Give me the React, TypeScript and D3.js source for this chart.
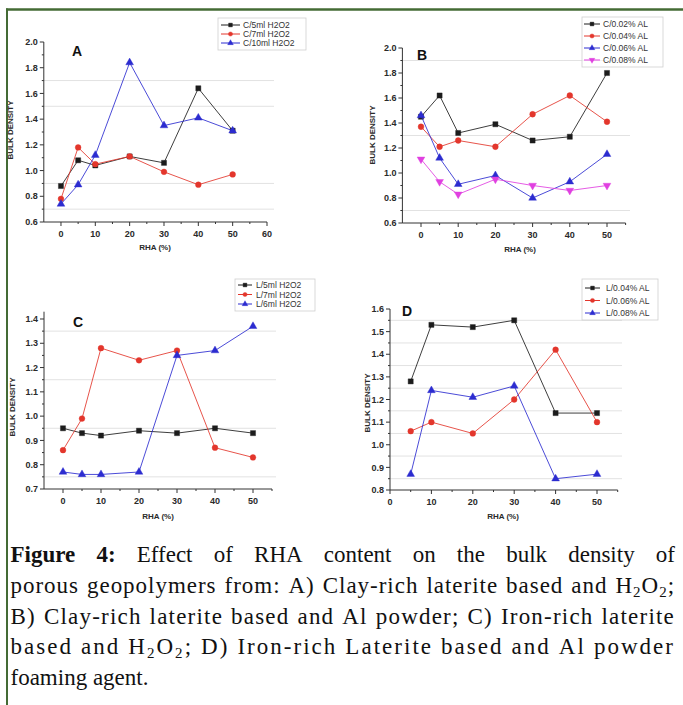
import React, { useEffect, useRef } from 'react';
import * as d3 from 'd3';

// RHA content (%) on the x axis
const rha = [0, 5, 10, 20, 30, 40, 50];
const rhaD = [5, 10, 20, 30, 40, 50];

// A) Clay-rich laterite + H2O2
const a5ml = [0.88, 1.08, 1.04, 1.11, 1.06, 1.64, 1.31];
const a7ml = [0.78, 1.18, 1.05, 1.11, 0.99, 0.89, 0.97];
const a10ml = [0.74, 0.89, 1.12, 1.84, 1.35, 1.41, 1.31];
const labelsA = ['C/5ml H2O2', 'C/7ml H2O2', 'C/10ml H2O2'];

// B) Clay-rich laterite + Al powder
const b002 = [1.45, 1.62, 1.32, 1.39, 1.26, 1.29, 1.8];
const b004 = [1.37, 1.21, 1.26, 1.21, 1.47, 1.62, 1.41];
const b006 = [1.46, 1.12, 0.91, 0.98, 0.8, 0.93, 1.15];
const b008 = [1.11, 0.93, 0.83, 0.95, 0.9, 0.86, 0.9];
const labelsB = ['C/0.02% AL', 'C/0.04% AL', 'C/0.06% AL', 'C/0.08% AL'];

// C) Iron-rich laterite + H2O2
const c5ml = [0.95, 0.93, 0.92, 0.94, 0.93, 0.95, 0.93];
const c7ml = [0.86, 0.99, 1.28, 1.23, 1.27, 0.87, 0.83];
const c6ml = [0.77, 0.76, 0.76, 0.77, 1.25, 1.27, 1.37];
const labelsC = ['L/5ml H2O2', 'L/7ml H2O2', 'L/6ml H2O2'];

// D) Iron-rich laterite + Al powder
const d004 = [1.28, 1.53, 1.52, 1.55, 1.14, 1.14];
const d006 = [1.06, 1.1, 1.05, 1.2, 1.42, 1.1];
const d008 = [0.87, 1.24, 1.21, 1.26, 0.85, 0.87];
const labelsD = ['L/0.04% AL', 'L/0.06% AL', 'L/0.08% AL'];

const xTicksA = [0, 10, 20, 30, 40, 50, 60];
const xTicks = [0, 10, 20, 30, 40, 50];
const yTicksAB = [0.6, 0.8, 1.0, 1.2, 1.4, 1.6, 1.8, 2.0];
const yTicksC = [0.7, 0.8, 0.9, 1.0, 1.1, 1.2, 1.3, 1.4];
const yTicksD = [0.8, 0.9, 1.0, 1.1, 1.2, 1.3, 1.4, 1.5, 1.6];

const captionLines = [
  'Figure 4: Effect of RHA content on the bulk density of',
  'porous geopolymers from: A) Clay-rich laterite based and H2O2;',
  'B) Clay-rich laterite based and Al powder; C) Iron-rich laterite',
  'based and H2O2; D) Iron-rich Laterite based and Al powder',
  'foaming agent.',
];

const BLACK = '#1c1c1c';
const RED = '#e3362c';
const BLUE = '#2c2cd0';
const MAGENTA = '#e040e0';
const GREEN = '#446b35';
const SANS = '"Liberation Sans", Arial, Helvetica, sans-serif';
const SERIF = '"Liberation Serif", "Times New Roman", serif';

type Marker = 'square' | 'circle' | 'triangle' | 'triangleDown';
type Series = { label: string; x: number[]; y: number[]; color: string; marker: Marker };
type Legend = { x: number; y: number; w: number; h: number; row0: number; step: number; l1: number; l2: number; tx: number };
type PanelCfg = {
  letter: string;
  letterPos: [number, number];
  xDomain: [number, number];
  xRange: [number, number];
  yDomain: [number, number];
  yRange: [number, number];
  xTicks: number[];
  yTicks: number[];
  guides: number[];
  guideEnd: number;
  yLabel: [number, number];
  xLabel: [number, number];
  legend: Legend;
  series: Series[];
};

const panels: PanelCfg[] = [
  {
    letter: 'A', letterPos: [72, 56],
    xDomain: [-5, 60], xRange: [43.8, 267], yDomain: [0.6, 2.0], yRange: [222, 42],
    xTicks: xTicksA, yTicks: yTicksAB, guides: [0.7, 0.9, 1.5, 1.7], guideEnd: 274,
    yLabel: [13, 130], xLabel: [155, 250],
    legend: { x: 218, y: 18, w: 88, h: 32, row0: 25, step: 9, l1: 221, l2: 240, tx: 243 },
    series: [
      { label: labelsA[0], x: rha, y: a5ml, color: BLACK, marker: 'square' },
      { label: labelsA[1], x: rha, y: a7ml, color: RED, marker: 'circle' },
      { label: labelsA[2], x: rha, y: a10ml, color: BLUE, marker: 'triangle' },
    ],
  },
  {
    letter: 'B', letterPos: [417, 60],
    xDomain: [-5, 55], xRange: [402.4, 625.6], yDomain: [0.6, 2.0], yRange: [223, 48],
    xTicks, yTicks: yTicksAB, guides: [0.7, 1.3, 1.9], guideEnd: 630,
    yLabel: [375, 135], xLabel: [520, 252],
    legend: { x: 582, y: 17, w: 81, h: 50, row0: 24, step: 12, l1: 584, l2: 600, tx: 603 },
    series: [
      { label: labelsB[0], x: rha, y: b002, color: BLACK, marker: 'square' },
      { label: labelsB[1], x: rha, y: b004, color: RED, marker: 'circle' },
      { label: labelsB[2], x: rha, y: b006, color: BLUE, marker: 'triangle' },
      { label: labelsB[3], x: rha, y: b008, color: MAGENTA, marker: 'triangleDown' },
    ],
  },
  {
    letter: 'C', letterPos: [73, 327],
    xDomain: [-5, 55], xRange: [44, 272], yDomain: [0.7, 1.43], yRange: [489, 311.7],
    xTicks, yTicks: yTicksC, guides: [0.75, 0.95, 1.15, 1.35], guideEnd: 276,
    yLabel: [15, 407], xLabel: [158, 519],
    legend: { x: 235, y: 279, w: 80, h: 32, row0: 285, step: 9.5, l1: 238, l2: 252, tx: 256 },
    series: [
      { label: labelsC[0], x: rha, y: c5ml, color: BLACK, marker: 'square' },
      { label: labelsC[1], x: rha, y: c7ml, color: RED, marker: 'circle' },
      { label: labelsC[2], x: rha, y: c6ml, color: BLUE, marker: 'triangle' },
    ],
  },
  {
    letter: 'D', letterPos: [402, 316],
    xDomain: [0, 55], xRange: [390, 617.7], yDomain: [0.8, 1.6], yRange: [490, 309],
    xTicks, yTicks: yTicksD, guides: [0.85, 0.95, 1.05, 1.15, 1.25, 1.35, 1.45, 1.55], guideEnd: 622,
    yLabel: [370, 403], xLabel: [503, 519],
    legend: { x: 582, y: 279, w: 76, h: 41, row0: 288, step: 12.5, l1: 585, l2: 600, tx: 606 },
    series: [
      { label: labelsD[0], x: rhaD, y: d004, color: BLACK, marker: 'square' },
      { label: labelsD[1], x: rhaD, y: d006, color: RED, marker: 'circle' },
      { label: labelsD[2], x: rhaD, y: d008, color: BLUE, marker: 'triangle' },
    ],
  },
];

function symbolPath(m: Marker, size: number): string {
  const type = m === 'square' ? d3.symbolSquare : m === 'circle' ? d3.symbolCircle : d3.symbolTriangle;
  return d3.symbol().type(type).size(size)() || '';
}

function MarkerShape({ m, x, y, color, size = 26 }: { m: Marker; x: number; y: number; color: string; size?: number }) {
  const rot = m === 'triangleDown' ? ' rotate(180)' : '';
  return <path d={symbolPath(m, size)} transform={`translate(${x},${y})${rot}`} fill={color} stroke={color} strokeWidth={0.4} />;
}

function Panel({ cfg }: { cfg: PanelCfg }) {
  const x = d3.scaleLinear().domain(cfg.xDomain).range(cfg.xRange);
  const y = d3.scaleLinear().domain(cfg.yDomain).range(cfg.yRange);
  const x0 = cfg.xRange[0];
  const y0 = cfg.yRange[0];
  const fmt = d3.format('.1f');
  const lastX = cfg.xTicks[cfg.xTicks.length - 1];
  const xMinor = cfg.xTicks.slice(0, -1).map((t, i) => (t + cfg.xTicks[i + 1]) / 2)
    .concat(cfg.xDomain[1] - lastX >= 5 ? [lastX + 5] : []);
  const yMinor = cfg.yTicks.slice(0, -1).map((t, i) => (t + cfg.yTicks[i + 1]) / 2);
  const line = d3.line<[number, number]>().x((d) => x(d[0])).y((d) => y(d[1]));
  const lg = cfg.legend;
  return (
    <g fontFamily={SANS}>
      {cfg.guides.map((g) => (
        <line key={'g' + g} x1={x0} x2={cfg.guideEnd} y1={y(g)} y2={y(g)} stroke="#e2e2e2" strokeWidth={1} />
      ))}
      {/* axes */}
      <line x1={x0} x2={x0} y1={y0} y2={cfg.yRange[1]} stroke="#333" strokeWidth={1} />
      <line x1={x0} x2={cfg.xRange[1]} y1={y0} y2={y0} stroke="#333" strokeWidth={1} />
      {cfg.yTicks.map((t) => (
        <g key={'yt' + t}>
          <line x1={x0 - 4} x2={x0} y1={y(t)} y2={y(t)} stroke="#333" />
          <text x={x0 - 6} y={y(t) + 3.2} textAnchor="end" fontSize={9} fontWeight="bold" fill="#2a2a2a">{fmt(t)}</text>
        </g>
      ))}
      {yMinor.map((t) => (
        <line key={'ym' + t} x1={x0 - 2} x2={x0} y1={y(t)} y2={y(t)} stroke="#333" />
      ))}
      {cfg.xTicks.map((t) => (
        <g key={'xt' + t}>
          <line x1={x(t)} x2={x(t)} y1={y0} y2={y0 + 4} stroke="#333" />
          <text x={x(t)} y={y0 + 15} textAnchor="middle" fontSize={9} fontWeight="bold" fill="#2a2a2a">{t}</text>
        </g>
      ))}
      {xMinor.map((t) => (
        <line key={'xm' + t} x1={x(t)} x2={x(t)} y1={y0} y2={y0 + 2} stroke="#333" />
      ))}
      <text transform={`translate(${cfg.yLabel[0]},${cfg.yLabel[1]}) rotate(-90)`} textAnchor="middle" fontSize={8} fontWeight="bold" fill="#2a2a2a">BULK DENSITY</text>
      <text x={cfg.xLabel[0]} y={cfg.xLabel[1]} textAnchor="middle" fontSize={8} fontWeight="bold" fill="#2a2a2a">RHA (%)</text>
      <text x={cfg.letterPos[0]} y={cfg.letterPos[1]} fontSize={14} fontWeight="bold" fill="#111">{cfg.letter}</text>
      {cfg.series.map((s) => {
        const pts = s.x.map((v, i) => [v, s.y[i]] as [number, number]);
        return (
          <g key={s.label}>
            <path d={line(pts) || ''} fill="none" stroke={s.color} strokeOpacity={0.85} strokeWidth={1} />
            {pts.map((p, i) => (
              <MarkerShape key={i} m={s.marker} x={x(p[0])} y={y(p[1])} color={s.color} />
            ))}
          </g>
        );
      })}
      {/* legend */}
      <rect x={lg.x} y={lg.y} width={lg.w} height={lg.h} fill="white" fillOpacity={0.6} stroke="#cfcfcf" strokeWidth={0.8} />
      {cfg.series.map((s, i) => {
        const ry = lg.row0 + i * lg.step;
        return (
          <g key={'lg' + s.label}>
            <line x1={lg.l1} x2={lg.l2} y1={ry} y2={ry} stroke={s.color} strokeWidth={1} />
            <MarkerShape m={s.marker} x={(lg.l1 + lg.l2) / 2} y={ry} color={s.color} size={14} />
            <text x={lg.tx} y={ry + 3} fontSize={8.5} fill="#333">{s.label}</text>
          </g>
        );
      })}
    </g>
  );
}

export default function App() {
  const capRef = useRef<SVGGElement>(null);

  // Caption: justified lines, word gaps capped with the remainder spread as letter spacing
  useEffect(() => {
    const g = d3.select(capRef.current);
    g.selectAll('*').remove();
    const left = 10.5;
    const right = 675;
    const fs = 23;
    const top = 562;
    const step = 30.8;
    const maxGap = 8;
    captionLines.forEach((ln, li) => {
      const yy = top + li * step;
      const words = ln.split(' ');
      const nodes = words.map((w, wi) => {
        const t = g.append('text').attr('y', yy).attr('font-size', fs).attr('font-family', SERIF).attr('fill', '#111');
        if (li === 0 && wi < 2) t.attr('font-weight', 'bold');
        if (w.includes('H2O2')) {
          const rest = w.replace('H2O2', '');
          t.append('tspan').text('H');
          t.append('tspan').attr('dy', 4).attr('font-size', 15).text('2');
          t.append('tspan').attr('dy', -4).text('O');
          t.append('tspan').attr('dy', 4).attr('font-size', 15).text('2');
          t.append('tspan').attr('dy', -4).text(rest || '\u200b');
        } else {
          t.text(w);
        }
        return t;
      });
      const measure = () => nodes.map((n) => (n.node() as SVGTextElement).getComputedTextLength());
      let widths = measure();
      const justify = li < captionLines.length - 1 && li > 0;
      if (justify) {
        const gap0 = (right - left - d3.sum(widths)) / (nodes.length - 1);
        if (gap0 > maxGap) {
          const chars = d3.sum(words, (w) => w.replace('H2O2', 'HxOx').length);
          const ls = ((gap0 - maxGap) * (nodes.length - 1)) / chars;
          nodes.forEach((n) => n.attr('letter-spacing', ls));
          widths = measure();
        }
      }
      const total = d3.sum(widths);
      const gap = li < captionLines.length - 1 ? (right - left - total) / (nodes.length - 1) : fs * 0.25;
      let cx = left;
      nodes.forEach((n, i) => {
        n.attr('x', cx);
        cx += widths[i] + gap;
      });
    });
  }, []);

  return (
    <svg width={683} height={705} style={{ position: 'absolute', left: 0, top: 0, background: '#fff' }}>
      <rect x={0} y={0} width={683} height={705} fill="#fff" />
      {/* figure frame */}
      <line x1={6} x2={683} y1={9.5} y2={9.5} stroke={GREEN} strokeWidth={2.5} />
      <line x1={7} x2={7} y1={8.5} y2={705} stroke={GREEN} strokeWidth={2} />
      {panels.map((p) => (
        <Panel key={p.letter} cfg={p} />
      ))}
      <g ref={capRef} />
    </svg>
  );
}
